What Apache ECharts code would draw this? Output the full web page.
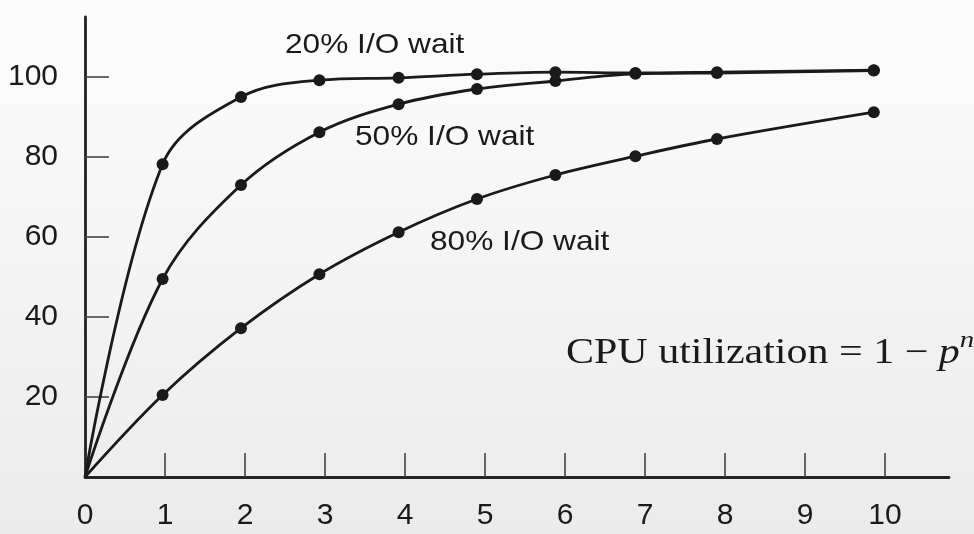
<!DOCTYPE html>
<html>
<head>
<meta charset="utf-8">
<title>CPU utilization</title>
<script src="https://cdn.jsdelivr.net/npm/echarts@6/dist/echarts.min.js"></script>
<style>
  html, body { margin: 0; padding: 0; }
  #main { width: 974px; height: 534px; }
</style>
</head>
<body>
<div id="main"></div>
<script>
// degree of multiprogramming (x positions of the dots)
const xs = [0, 0.97, 1.95, 2.93, 3.92, 4.9, 5.88, 6.88, 7.9, 9.86];

// CPU utilization (%) for each I/O wait curve
const wait20 = [0, 78.2, 95, 99.2, 99.8, 100.7, 101.2, 101, 101.2, 101.7];
const wait50 = [0, 49.5, 73, 86.2, 93.2, 97, 99, 100.8, 101, 101.6];
const wait80 = [0, 20.5, 37.2, 50.7, 61.2, 69.5, 75.5, 80.2, 84.5, 91.2];

const xTickLabels = [0, 1, 2, 3, 4, 5, 6, 7, 8, 9, 10];
const yTickLabels = [20, 40, 60, 80, 100];

function toPoints(ys) {
  return xs.map(function (x, i) {
    // no dot drawn at the origin
    return i === 0 ? { value: [x, ys[i]], symbol: 'none' } : [x, ys[i]];
  });
}

function curve(name, ys) {
  return {
    name: name,
    type: 'line',
    data: toPoints(ys),
    smooth: 0.35,
    symbol: 'circle',
    symbolSize: 12,
    itemStyle: { color: '#1a1a1a' },
    lineStyle: { color: '#1a1a1a', width: 2.8 },
    z: 3
  };
}

let chartDom = document.getElementById('main');
let myChart = echarts.init(chartDom);

const labelFont = 'Liberation Sans, Arial, Helvetica, sans-serif';
const serifFont = 'Liberation Serif, Times New Roman, serif';

let option = {
  animation: false,
  backgroundColor: new echarts.graphic.LinearGradient(0, 0, 0, 1, [
    { offset: 0, color: '#fdfdfd' },
    { offset: 1, color: '#ebebeb' }
  ]),
  grid: {
    left: 85,
    right: 25,
    top: 17,
    bottom: 57
  },
  xAxis: {
    type: 'value',
    min: 0,
    max: 10.8,
    splitLine: { show: false },
    axisLine: { lineStyle: { color: '#222', width: 2.8 } },
    axisTick: {
      inside: true,
      length: 24,
      customValues: [1, 2, 3, 4, 5, 6, 7, 8, 9, 10],
      lineStyle: { color: '#444', width: 1.6 }
    },
    axisLabel: {
      customValues: xTickLabels,
      margin: 24,
      color: '#1a1a1a',
      fontSize: 30,
      fontFamily: labelFont
    }
  },
  yAxis: {
    type: 'value',
    min: 0,
    max: 115,
    splitLine: { show: false },
    axisLine: { show: true, lineStyle: { color: '#222', width: 2.8 } },
    axisTick: {
      show: true,
      inside: true,
      length: 24,
      customValues: yTickLabels,
      lineStyle: { color: '#444', width: 1.6 }
    },
    axisLabel: {
      customValues: yTickLabels,
      margin: 27,
      color: '#1a1a1a',
      fontSize: 30,
      fontFamily: labelFont
    }
  },
  series: [
    curve('20% I/O wait', wait20),
    curve('50% I/O wait', wait50),
    curve('80% I/O wait', wait80)
  ],
  graphic: [
    {
      type: 'text', x: 285, y: 45, scaleX: 1.13,
      style: { text: '20% I/O wait', fill: '#1a1a1a', font: '28px ' + labelFont, verticalAlign: 'middle' }
    },
    {
      type: 'text', x: 355, y: 137, scaleX: 1.13,
      style: { text: '50% I/O wait', fill: '#1a1a1a', font: '28px ' + labelFont, verticalAlign: 'middle' }
    },
    {
      type: 'text', x: 430, y: 242, scaleX: 1.13,
      style: { text: '80% I/O wait', fill: '#1a1a1a', font: '28px ' + labelFont, verticalAlign: 'middle' }
    },
    {
      type: 'text', x: 566, y: 329, scaleX: 1.2,
      style: {
        text: '{a|CPU utilization = 1 \u2212 }{p|p}{n|n}',
        fill: '#1a1a1a',
        verticalAlign: 'top',
        rich: {
          a: { fontFamily: serifFont, fontSize: 35, lineHeight: 42, fill: '#1a1a1a', verticalAlign: 'bottom' },
          p: { fontFamily: serifFont, fontStyle: 'italic', fontSize: 35, lineHeight: 42, fill: '#1a1a1a', verticalAlign: 'bottom' },
          n: { fontFamily: serifFont, fontStyle: 'italic', fontSize: 24, lineHeight: 42, fill: '#1a1a1a', verticalAlign: 'top' }
        }
      }
    }
  ]
};
option && myChart.setOption(option);
</script>
</body>
</html>
